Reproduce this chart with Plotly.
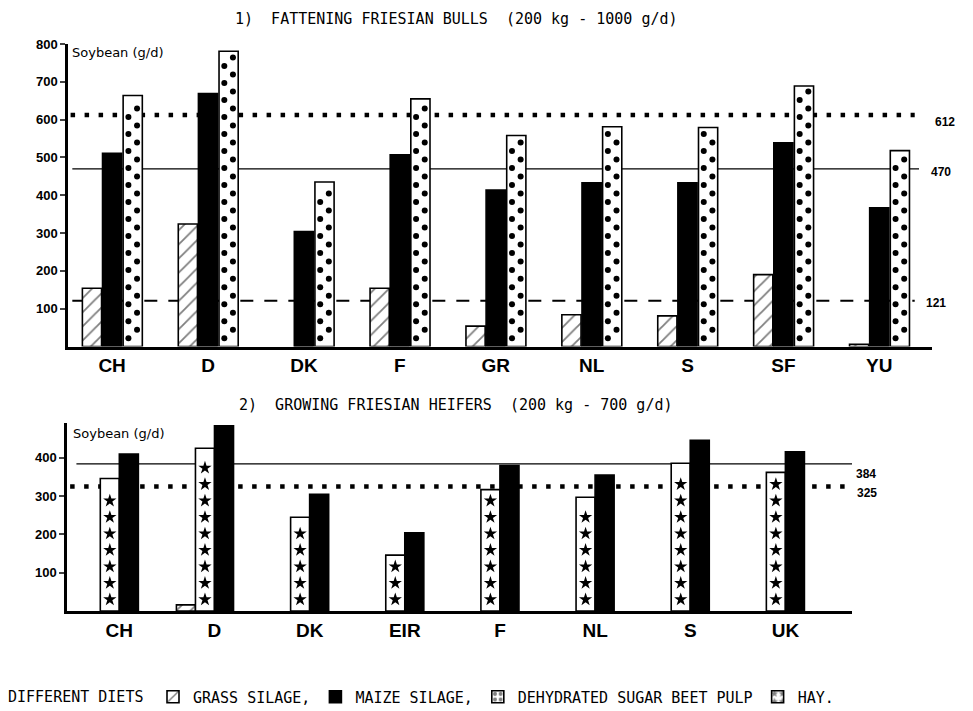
import math
import numpy as np
import plotly.graph_objects as go

# ---------------- data ----------------
bull_countries = ["CH", "D", "DK", "F", "GR", "NL", "S", "SF", "YU"]
bull_grass = [154, 324, None, 154, 54, 84, 81, 190, 6]
bull_maize = [511, 669, 304, 507, 414, 433, 433, 539, 367]
bull_pulp = [664, 781, 435, 655, 558, 581, 579, 689, 518]
bull_ref_dot, bull_ref_solid, bull_ref_dash = 612, 470, 121

heifer_countries = ["CH", "D", "DK", "EIR", "F", "NL", "S", "UK"]
heifer_grass = [None, 16, None, None, None, None, None, None]
heifer_hay = [346, 425, 245, 146, 317, 297, 386, 362]
heifer_maize = [410, 484, 305, 204, 380, 355, 446, 416]
heifer_ref_solid, heifer_ref_dot = 384, 325

bull_ticks = [100, 200, 300, 400, 500, 600, 700, 800]
heifer_ticks = [100, 200, 300, 400]

# page body has an 8px margin: figure sized so it ends at the window edge
OFF = 8
W, H = 973 - OFF, 711 - OFF
BW = 0.2
LINE = dict(color="black", width=1.6)

def px_x(p):
    return (p - OFF) / W

def px_y(p):
    return 1 - (p - OFF) / H

fig = go.Figure()

bx = np.arange(len(bull_countries))
hx = np.arange(len(heifer_countries))

grass_pat = dict(shape="/", fgcolor="black", bgcolor="white", size=10, solidity=0.18)
pulp_pat = dict(shape=".", fgcolor="black", bgcolor="white", size=7, solidity=0.4)

# star path for hay legend swatch
pts = []
for k in range(10):
    ang = math.radians(-90 + 36 * k)
    r = 5 if k % 2 == 0 else 2.1
    pts.append((6 + r * math.cos(ang), 6 + r * math.sin(ang)))
star_path = "M" + "L".join(f"{a:.2f},{b:.2f}" for a, b in pts) + "Z"

# ---- top chart ----
fig.add_trace(go.Bar(x=bx - 0.21, y=bull_grass, width=BW, name="GRASS SILAGE,",
                     marker=dict(color="white", line=LINE, pattern=grass_pat),
                     legendgroup="grass", legendrank=1, xaxis="x", yaxis="y"))
fig.add_trace(go.Bar(x=bx, y=bull_maize, width=BW, name="MAIZE SILAGE,",
                     marker=dict(color="black", line=LINE),
                     legendgroup="maize", legendrank=2, xaxis="x", yaxis="y"))
fig.add_trace(go.Bar(x=bx + 0.215, y=bull_pulp, width=BW, name="DEHYDRATED SUGAR BEET PULP",
                     marker=dict(color="white", line=LINE),
                     legendgroup="pulp", showlegend=False, xaxis="x", yaxis="y"))

# dots inside the pulp bars (two staggered columns)
dx, dy = [], []
for i, h in enumerate(bull_pulp):
    for k, v in enumerate(np.arange(22, h - 14, 22.5)):
        dx.append(bx[i] + 0.215 + (-0.045 if k % 2 == 0 else 0.045))
        dy.append(v)
fig.add_trace(go.Scatter(x=dx, y=dy, mode="markers",
                         marker=dict(symbol="circle", size=6, color="black"),
                         showlegend=False, hoverinfo="skip", xaxis="x", yaxis="y"))

# ---- bottom chart ----
fig.add_trace(go.Bar(x=hx - 0.2, y=heifer_grass, width=BW, name="GRASS SILAGE,",
                     marker=dict(color="white", line=LINE, pattern=grass_pat),
                     legendgroup="grass", showlegend=False, xaxis="x2", yaxis="y2"))
fig.add_trace(go.Bar(x=hx, y=heifer_hay, width=BW, name="HAY.",
                     marker=dict(color="white", line=LINE),
                     legendgroup="hay", showlegend=False, xaxis="x2", yaxis="y2"))
fig.add_trace(go.Bar(x=hx + 0.2, y=heifer_maize, width=BW, name="MAIZE SILAGE,",
                     marker=dict(color="black", line=LINE),
                     legendgroup="maize", showlegend=False, xaxis="x2", yaxis="y2"))

# stars inside hay bars
sx, sy = [], []
for i, h in enumerate(heifer_hay):
    for v in np.arange(30, h - 28 + 0.1, 43):
        sx.append(hx[i])
        sy.append(v)
fig.add_trace(go.Scatter(x=sx, y=sy, mode="markers",
                         marker=dict(symbol="star", size=10, color="black"),
                         showlegend=False, hoverinfo="skip", xaxis="x2", yaxis="y2"))

# legend-only swatches
fig.add_trace(go.Bar(x=[None], y=[None], name="DEHYDRATED SUGAR BEET PULP",
                     marker=dict(color="white", line=LINE, pattern=pulp_pat),
                     legendgroup="pulp", legendrank=3, xaxis="x", yaxis="y"))
fig.add_trace(go.Bar(x=[None], y=[None], name="HAY.",
                     marker=dict(color="white", line=LINE,
                                 pattern=dict(path=star_path, fgcolor="black", bgcolor="white",
                                              size=12, solidity=0.5)),
                     legendgroup="hay", legendrank=4, xaxis="x2", yaxis="y2"))

# ---- reference lines ----
shapes = []
def hline(xref, yref, y, x0, x1, dash, width):
    shapes.append(dict(type="line", xref=xref, yref=yref, x0=x0, x1=x1, y0=y, y1=y,
                       line=dict(color="black", width=width, dash=dash), layer="below"))

hline("x domain", "y", bull_ref_dot, 0.003, 0.98, "4.5px,9.5px", 4.5)
hline("x domain", "y", bull_ref_solid, 0.005, 0.985, "solid", 1.3)
hline("x domain", "y", bull_ref_dash, 0.005, 0.98, "13px,11px", 1.8)
hline("x2 domain", "y2", heifer_ref_solid, 0.012, 1.0, "solid", 1.3)
hline("x2 domain", "y2", heifer_ref_dot, 0.004, 1.0, "4.5px,9.5px", 4.5)

# ---- annotations ----
mono = "DejaVu Sans Mono"
ann = []

def note(text, x, y, font, xanchor="center"):
    ann.append(dict(text=text, x=px_x(x), y=px_y(y), xref="paper", yref="paper",
                    xanchor=xanchor, yanchor="middle", showarrow=False, font=font))

title_font = dict(family=mono, size=15, color="black")
note("1)  FATTENING FRIESIAN BULLS  (200 kg - 1000 g/d)", 456, 19, title_font)
note("2)  GROWING FRIESIAN HEIFERS  (200 kg - 700 g/d)", 455, 405, title_font)
soy_font = dict(family="DejaVu Sans", size=13, color="black")
note("Soybean (g/d)", 70, 52, soy_font, "left")
note("Soybean (g/d)", 71, 433, soy_font, "left")
lab_font = dict(family="Liberation Sans", size=12, color="black", weight="bold")
for val, xx, yy in [(bull_ref_dot, 933, 122), (bull_ref_solid, 929, 172), (bull_ref_dash, 924, 303),
                    (heifer_ref_solid, 854, 474), (heifer_ref_dot, 855, 493)]:
    note(str(val), xx, yy, lab_font, "left")
note("DIFFERENT DIETS", 6, 697, dict(family=mono, size=15, color="black"), "left")

tickfont_y = dict(family="Liberation Sans", size=13, color="black", weight="bold")
tickfont_x = dict(family="Liberation Sans", size=19, color="black", weight="bold")

fig.update_layout(
    width=W, height=H,
    margin=dict(l=0, r=0, t=0, b=0, autoexpand=False),
    paper_bgcolor="white", plot_bgcolor="rgba(0,0,0,0)",
    barmode="overlay",
    shapes=shapes, annotations=ann,
    showlegend=True,
    legend=dict(orientation="h", x=px_x(153), y=px_y(697), xanchor="left", yanchor="middle",
                font=dict(family=mono, size=15, color="black"),
                bgcolor="rgba(0,0,0,0)", itemwidth=30, tracegroupgap=0),
    xaxis=dict(domain=[px_x(68), px_x(932)], range=[-0.46, 8.55], anchor="y",
               tickvals=list(bx), ticktext=bull_countries, tickfont=tickfont_x,
               showline=True, linecolor="black", linewidth=2.5, showgrid=False, zeroline=False, ticks=""),
    yaxis=dict(domain=[px_y(346.5), px_y(44)], range=[0, 800], anchor="x",
               tickvals=bull_ticks, tickfont=tickfont_y, ticks="outside", ticklen=5, tickwidth=2,
               showline=True, linecolor="black", linewidth=2.5, showgrid=False, zeroline=False),
    xaxis2=dict(domain=[px_x(67), px_x(852)], range=[-0.45, 7.8], anchor="y2",
                tickvals=list(hx + 0.1), ticktext=heifer_countries, tickfont=tickfont_x,
                showline=True, linecolor="black", linewidth=2.5, showgrid=False, zeroline=False, ticks=""),
    yaxis2=dict(domain=[px_y(611), px_y(423)], range=[0, 491], anchor="x2",
                tickvals=heifer_ticks, tickfont=tickfont_y, ticks="outside", ticklen=5, tickwidth=2,
                showline=True, linecolor="black", linewidth=2.5, showgrid=False, zeroline=False),
)

fig.write_html("out.html")
